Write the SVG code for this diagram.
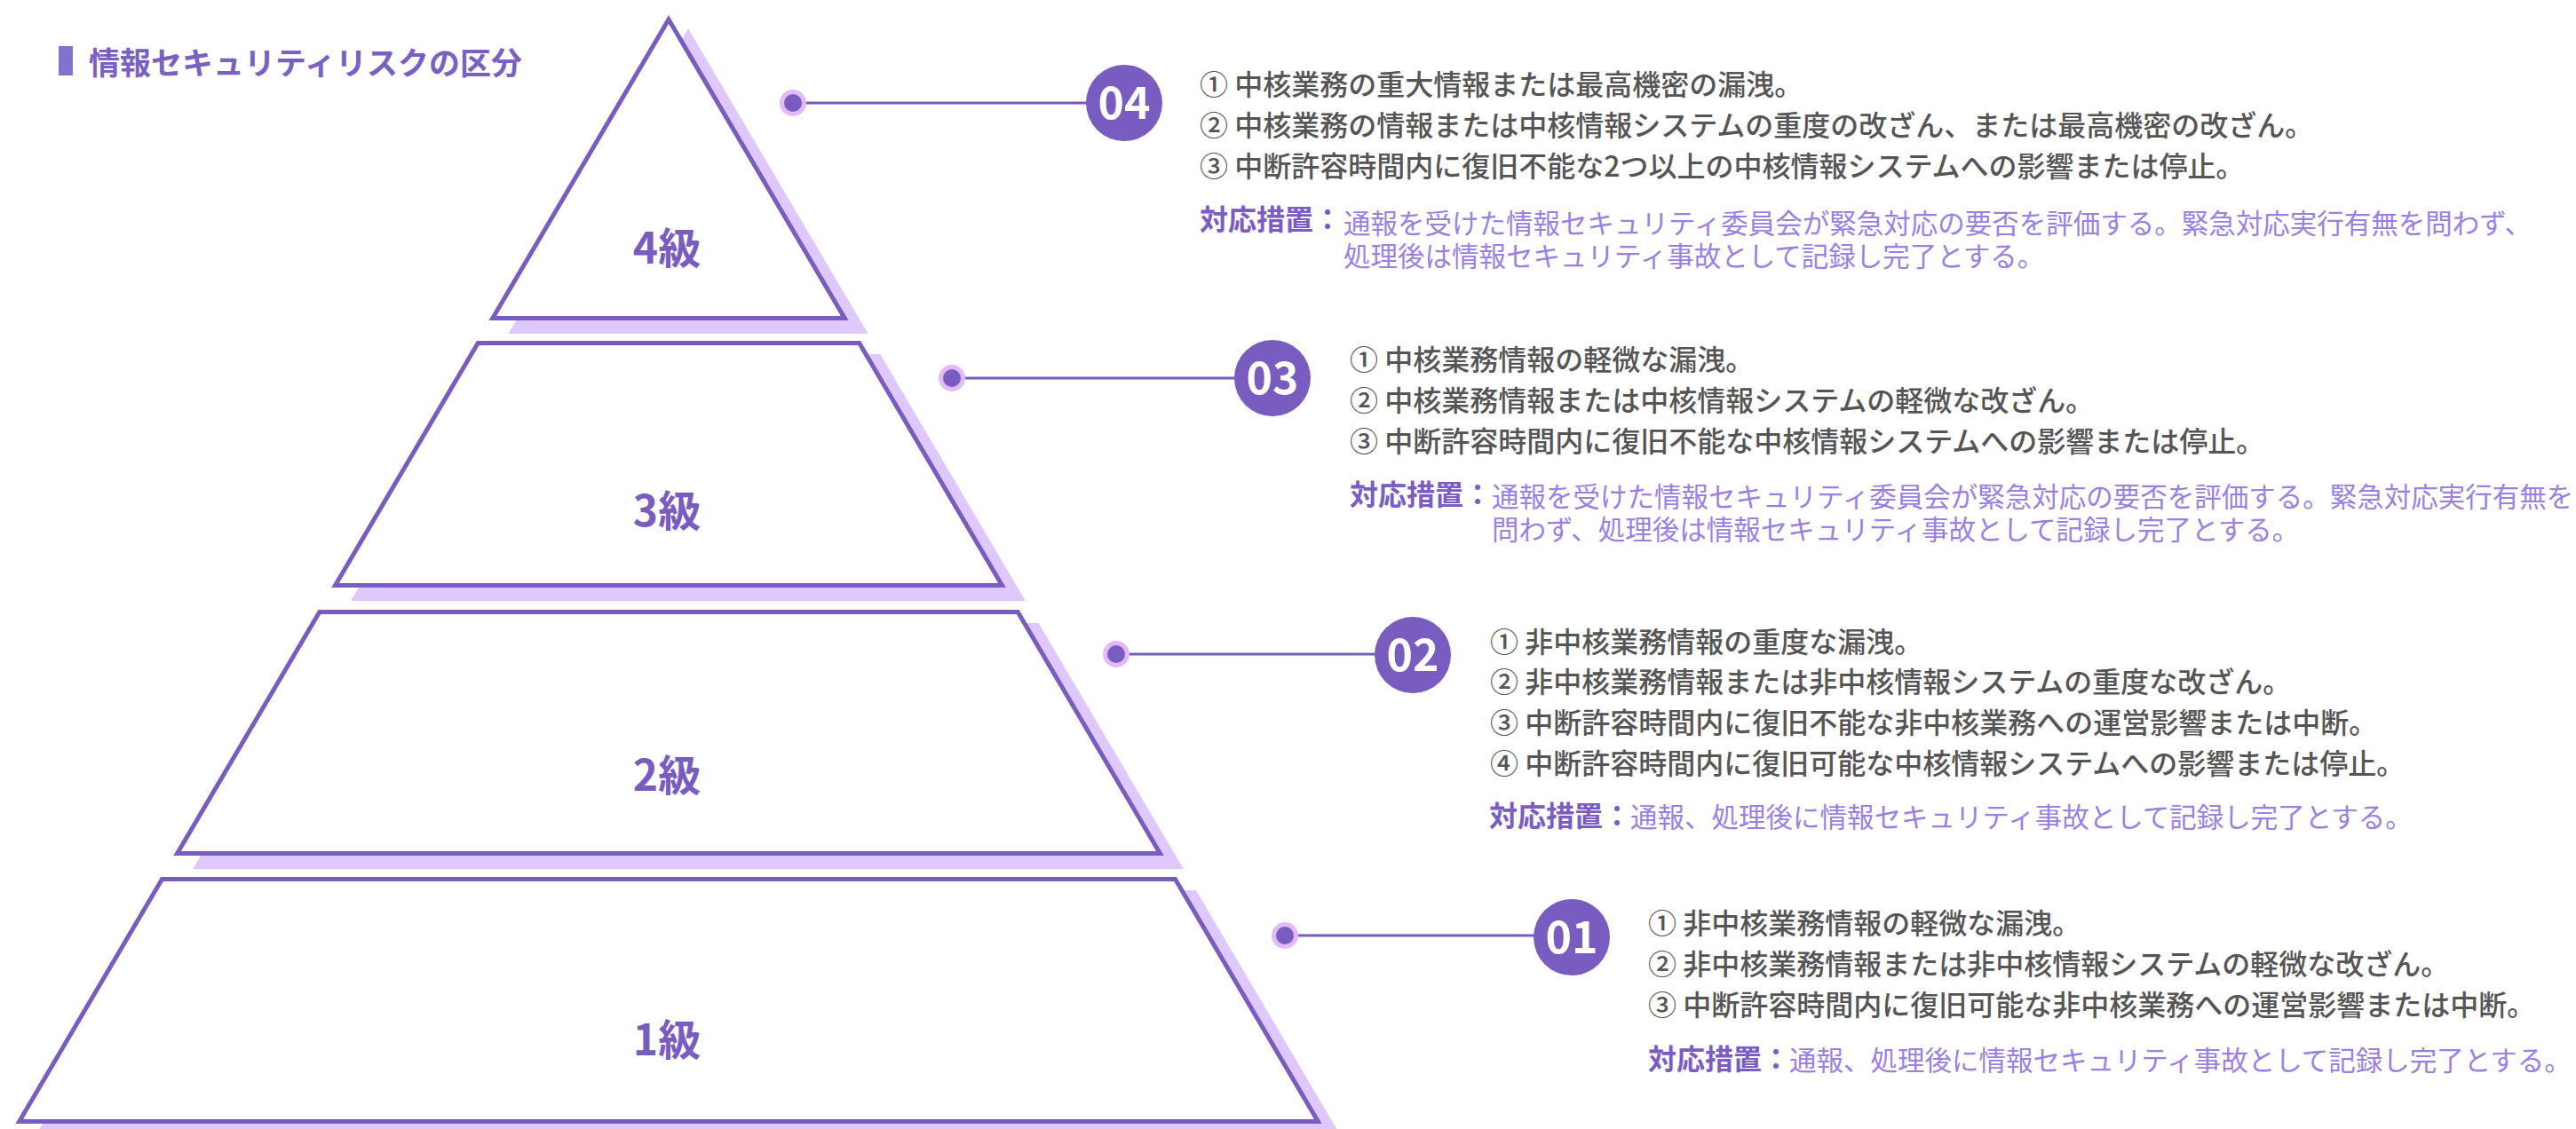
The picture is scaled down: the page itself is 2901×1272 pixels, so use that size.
<svg xmlns="http://www.w3.org/2000/svg" width="2901" height="1272" viewBox="0 0 2901 1272">
<style>
text{font-family:"Noto Sans CJK JP","Noto Sans CJK SC",sans-serif}
.shadow{fill:#dec8fd;stroke:#dec8fd;stroke-width:5;stroke-linejoin:miter}
.tier{fill:#ffffff;stroke:#795cbf;stroke-width:5;stroke-linejoin:miter}
.lvl{font-size:48px;font-weight:700;fill:#795cbf;text-anchor:middle}
.conn{stroke:#795cbf;stroke-width:3;fill:none}
.dotO{fill:#e5b8fa}
.dotI{fill:#795cbf}
.badge{fill:#795cbf}
.num{font-size:50px;font-weight:700;fill:#ffffff;text-anchor:middle}
.item{font-size:32px;font-weight:500;fill:#555555}
.lab{font-size:32px;font-weight:700;fill:#7a5cc4}
.body{font-size:30.5px;font-weight:400;fill:#9b80e2}
.title{font-size:35px;font-weight:700;fill:#7a60c2}
</style>

<g id="title">
<rect x="66" y="52" width="16" height="33" fill="#7e74cc"/>
<text class="title" x="100" y="84">情報セキュリティリスクの区分</text>
</g>

<g id="level4">
<polygon class="shadow" transform="translate(22,15)" points="753,22 951.2,358.5 554.8,358.5"/>
<polygon class="tier" points="753,22 951.2,358.5 554.8,358.5"/>
<text class="lvl" x="751" y="297">4級</text>
</g>
<g id="level3">
<polygon class="shadow" transform="translate(22,15)" points="538.3,386.5 967.7,386.5 1128.5,659.5 377.5,659.5"/>
<polygon class="tier" points="538.3,386.5 967.7,386.5 1128.5,659.5 377.5,659.5"/>
<text class="lvl" x="751" y="593">3級</text>
</g>
<g id="level2">
<polygon class="shadow" transform="translate(22,15)" points="359.8,689.5 1146.2,689.5 1306.4,961.5 199.6,961.5"/>
<polygon class="tier" points="359.8,689.5 1146.2,689.5 1306.4,961.5 199.6,961.5"/>
<text class="lvl" x="751" y="891">2級</text>
</g>
<g id="level1">
<polygon class="shadow" transform="translate(22,15)" points="182.5,990.5 1323.5,990.5 1484.3,1263.5 21.7,1263.5"/>
<polygon class="tier" points="182.5,990.5 1323.5,990.5 1484.3,1263.5 21.7,1263.5"/>
<text class="lvl" x="751" y="1189">1級</text>
</g>

<g id="connectors">
<line class="conn" x1="893" y1="116" x2="1266" y2="116"/>
<circle class="dotO" cx="893" cy="116" r="15"/>
<circle class="dotI" cx="893" cy="116" r="10"/>
<line class="conn" x1="1072" y1="426" x2="1433" y2="426"/>
<circle class="dotO" cx="1072" cy="426" r="15"/>
<circle class="dotI" cx="1072" cy="426" r="10"/>
<line class="conn" x1="1257" y1="737" x2="1591" y2="737"/>
<circle class="dotO" cx="1257" cy="737" r="15"/>
<circle class="dotI" cx="1257" cy="737" r="10"/>
<line class="conn" x1="1447" y1="1054" x2="1770" y2="1054"/>
<circle class="dotO" cx="1447" cy="1054" r="15"/>
<circle class="dotI" cx="1447" cy="1054" r="10"/>
</g>

<g id="badge04">
<circle class="badge" cx="1266" cy="116" r="43"/>
<text class="num" x="1266" y="134">04</text>
</g>
<g id="badge03">
<circle class="badge" cx="1433" cy="426" r="43"/>
<text class="num" x="1433" y="444">03</text>
</g>
<g id="badge02">
<circle class="badge" cx="1591" cy="738" r="43"/>
<text class="num" x="1591" y="756">02</text>
</g>
<g id="badge01">
<circle class="badge" cx="1770" cy="1056" r="43"/>
<text class="num" x="1770" y="1074">01</text>
</g>

<g id="desc04">
<text class="item" x="1351" y="107">① 中核業務の重大情報または最高機密の漏洩。</text>
<text class="item" x="1351" y="153">② 中核業務の情報または中核情報システムの重度の改ざん、または最高機密の改ざん。</text>
<text class="item" x="1351" y="199">③ 中断許容時間内に復旧不能な2つ以上の中核情報システムへの影響または停止。</text>
<text class="lab" x="1351" y="259">対応措置：</text>
<text class="body" x="1513" y="263">通報を受けた情報セキュリティ委員会が緊急対応の要否を評価する。緊急対応実行有無を問わず、</text>
<text class="body" x="1513" y="300">処理後は情報セキュリティ事故として記録し完了とする。</text>
</g>

<g id="desc03">
<text class="item" x="1520" y="417">① 中核業務情報の軽微な漏洩。</text>
<text class="item" x="1520" y="463">② 中核業務情報または中核情報システムの軽微な改ざん。</text>
<text class="item" x="1520" y="509">③ 中断許容時間内に復旧不能な中核情報システムへの影響または停止。</text>
<text class="lab" x="1520" y="569">対応措置：</text>
<text class="body" x="1680" y="571">通報を受けた情報セキュリティ委員会が緊急対応の要否を評価する。緊急対応実行有無を</text>
<text class="body" x="1680" y="608">問わず、処理後は情報セキュリティ事故として記録し完了とする。</text>
</g>

<g id="desc02">
<text class="item" x="1678" y="735">① 非中核業務情報の重度な漏洩。</text>
<text class="item" x="1678" y="780">② 非中核業務情報または非中核情報システムの重度な改ざん。</text>
<text class="item" x="1678" y="826">③ 中断許容時間内に復旧不能な非中核業務への運営影響または中断。</text>
<text class="item" x="1678" y="872">④ 中断許容時間内に復旧可能な中核情報システムへの影響または停止。</text>
<text class="lab" x="1677" y="931">対応措置：</text>
<text class="body" x="1836" y="932">通報、処理後に情報セキュリティ事故として記録し完了とする。</text>
</g>

<g id="desc01">
<text class="item" x="1856" y="1052">① 非中核業務情報の軽微な漏洩。</text>
<text class="item" x="1856" y="1098">② 非中核業務情報または非中核情報システムの軽微な改ざん。</text>
<text class="item" x="1856" y="1144">③ 中断許容時間内に復旧可能な非中核業務への運営影響または中断。</text>
<text class="lab" x="1856" y="1205">対応措置：</text>
<text class="body" x="2015" y="1206">通報、処理後に情報セキュリティ事故として記録し完了とする。</text>
</g>
</svg>
